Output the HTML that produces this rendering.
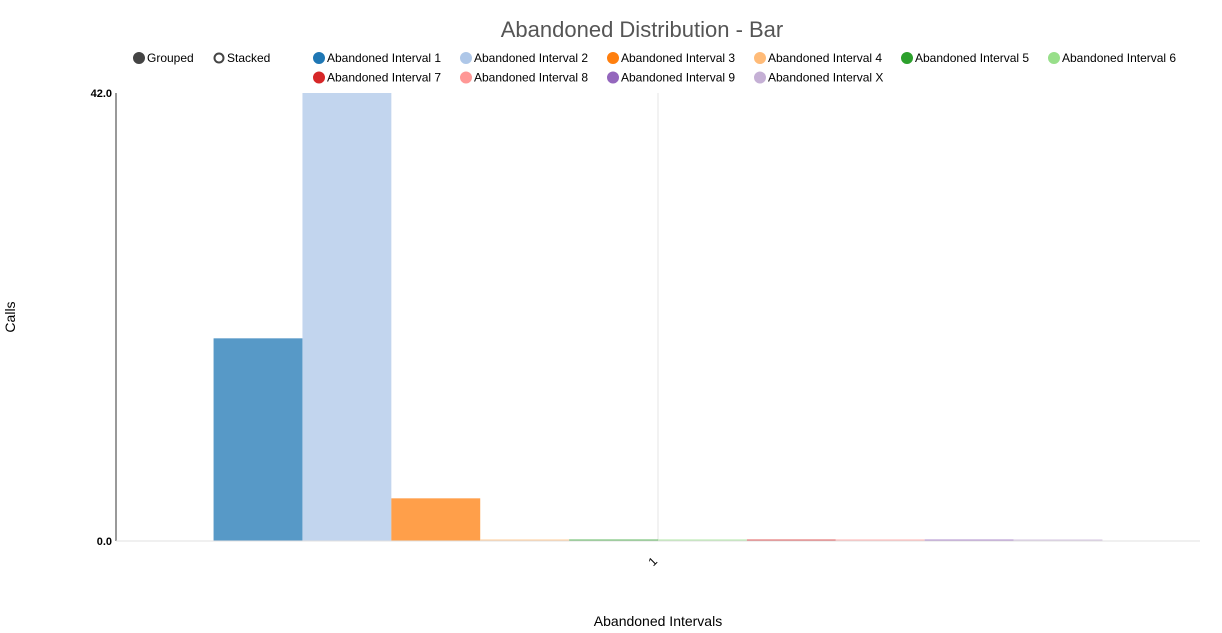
<!DOCTYPE html>
<html><head><meta charset="utf-8"><style>
body{margin:0;background:#fff;font-family:"Liberation Sans",sans-serif;}
svg text{font-family:"Liberation Sans",sans-serif;}
</style></head><body>
<svg id="c" width="1222" height="628">
<text x="642" y="37" text-anchor="middle" font-size="22" fill="#555">Abandoned Distribution - Bar</text>
<g id="legend"></g>
<line x1="658" y1="93" x2="658" y2="541" stroke="#e5e5e5"/>
<g id="bars"></g>
<line x1="116" y1="93" x2="116" y2="541" stroke="#333"/>
<line x1="116" y1="541" x2="1200" y2="541" stroke="#e0e0e0"/>
<g id="yt"></g>
<text x="658" y="562" font-size="12" fill="#000" text-anchor="end" transform="rotate(-45 658 562)">1</text>
<text x="15" y="317" font-size="14" text-anchor="middle" transform="rotate(-90 15 317)">Calls</text>
<text x="658" y="626" font-size="14" text-anchor="middle">Abandoned Intervals</text>
</svg>
<script>
const series=["Abandoned Interval 1","Abandoned Interval 2","Abandoned Interval 3","Abandoned Interval 4","Abandoned Interval 5","Abandoned Interval 6","Abandoned Interval 7","Abandoned Interval 8","Abandoned Interval 9","Abandoned Interval X"];
const values=[19,42,4,0,0,0,0,0,0,0];
const yTicks=[0,42];
const colors=["#1f77b4","#aec7e8","#ff7f0e","#ffbb78","#2ca02c","#98df8a","#d62728","#ff9896","#9467bd","#c5b0d5"];
const NS="http://www.w3.org/2000/svg";
const x0=116,x1=1200,yTop=93,yBot=541,yMax=42;
const y=v=>yBot-(v/yMax)*(yBot-yTop);
const groupW=(x1-x0)*0.82, gStart=(x0+x1)/2-groupW/2, bw=groupW/series.length;
const bars=document.getElementById('bars');
values.forEach((v,i)=>{
 const r=document.createElementNS(NS,'rect');
 const h=Math.max(yBot-y(v),1.5);
 r.setAttribute('x',gStart+i*bw);r.setAttribute('width',bw);
 r.setAttribute('y',yBot-h);r.setAttribute('height',h);
 r.setAttribute('fill',colors[i]);r.setAttribute('fill-opacity','0.75');
 
 
 bars.appendChild(r);
});
const yt=document.getElementById('yt');
yTicks.forEach(t=>{
 const tx=document.createElementNS(NS,'text');
 tx.setAttribute('x',112);tx.setAttribute('y',y(t)+4);tx.setAttribute('text-anchor','end');
 tx.setAttribute('font-size','11');tx.setAttribute('font-weight','bold');
 tx.textContent=t.toFixed(1);
 
 
 yt.appendChild(tx);
});
const lg=document.getElementById('legend');
function item(cx,cy,label,col,hollow,name){
 const g=document.createElementNS(NS,'g');
 
 
 const c=document.createElementNS(NS,'circle');
 c.setAttribute('cx',cx);c.setAttribute('cy',cy);c.setAttribute('r',hollow?4.5:5.5);
 c.setAttribute('fill',hollow?'#fff':col);c.setAttribute('stroke',col);c.setAttribute('stroke-width',hollow?2:1);
 g.appendChild(c);
 const t=document.createElementNS(NS,'text');
 t.setAttribute('x',cx+8);t.setAttribute('y',cy+4);t.setAttribute('font-size','12');t.textContent=label;
 g.appendChild(t);lg.appendChild(g);
}
item(139,58,'Grouped','#444',false,'grouped-toggle');
item(219,58,'Stacked','#444',true,'stacked-toggle');
series.forEach((s,i)=>{
 const col=i%6,row=Math.floor(i/6);
 item(319+col*147,58+row*19.5,s,colors[i],false,'legend-entry-'+(i+1));
});
</script>
</body></html>
